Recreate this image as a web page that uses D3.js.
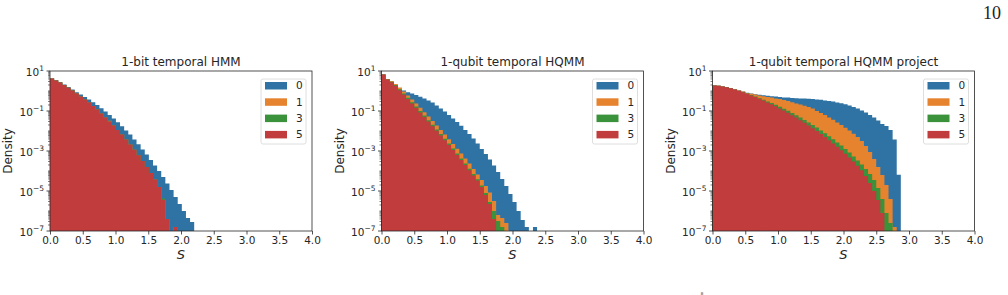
<!DOCTYPE html>
<html>
<head>
<meta charset="utf-8">
<script src="https://cdn.jsdelivr.net/npm/d3@7"></script>
<style>
  body { margin: 0; background: #fff; }
  svg { display: block; font-family: "DejaVu Sans", sans-serif; }
</style>
</head>
<body>
<div id="canvas"></div>
<script>
"use strict";

// Data: log10(density) per histogram bin, null = empty bin
let seriesNames = ["0", "1", "3", "5"];
let panelTitles = ["1-bit temporal HMM", "1-qubit temporal HQMM", "1-qubit temporal HQMM project"];
let binWidths = [0.0629, 0.0625, 0.0625];
let xTicks = [0, 0.5, 1, 1.5, 2, 2.5, 3, 3.5, 4];
let yTickExp = [1, -1, -3, -5, -7];

// panel 1: 1-bit temporal HMM
let hmmBlue = [0.62, 0.55, 0.45, 0.33, 0.20, 0.07, -0.06, -0.18, -0.30, -0.42, -0.56, -0.70, -0.86, -1.02, -1.20, -1.38, -1.56, -1.76, -1.97, -2.18, -2.42, -2.66, -2.92, -3.18, -3.45, -3.72, -4.00, -4.30, -4.62, -4.95, -5.30, -5.65, -6.00, -6.35, -6.55];
let hmmOrange = [0.62, 0.53, 0.42, 0.30, 0.16, 0.02, -0.12, -0.27, -0.42, -0.58, -0.75, -0.93, -1.12, -1.32, -1.49, -1.73, -1.95, -2.18, -2.42, -2.67, -2.94, -3.21, -3.50, -3.80, -4.10, -4.42, -4.80, -5.44, -6.40, null, -6.80];
let hmmGreen = [0.62, 0.53, 0.42, 0.30, 0.16, 0.02, -0.12, -0.27, -0.42, -0.58, -0.75, -0.93, -1.12, -1.32, -1.52, -1.73, -1.95, -2.18, -2.42, -2.67, -2.94, -3.21, -3.50, -3.80, -4.10, -4.42, -4.80, -5.38, -6.40, null, -6.80];
let hmmRed = [0.62, 0.53, 0.42, 0.30, 0.16, 0.02, -0.12, -0.27, -0.42, -0.58, -0.75, -0.93, -1.12, -1.32, -1.52, -1.73, -1.95, -2.18, -2.42, -2.67, -2.94, -3.21, -3.50, -3.80, -4.10, -4.42, -4.80, -5.44, -6.40, null, -6.80];

// panel 2: 1-qubit temporal HQMM
let hqmmBlue = [0.83, 0.60, 0.42, 0.25, 0.10, 0.02, -0.06, -0.13, -0.20, -0.29, -0.38, -0.48, -0.58, -0.72, -0.87, -1.03, -1.20, -1.37, -1.55, -1.74, -1.95, -2.15, -2.38, -2.62, -2.90, -3.15, -3.42, -3.72, -4.05, -4.40, -4.75, -5.15, -5.55, -6.00, -6.45, -6.80, null, -6.80];
let hqmmOrange = [0.83, 0.60, 0.50, 0.35, 0.18, -0.02, -0.22, -0.42, -0.63, -0.84, -1.06, -1.28, -1.50, -1.72, -1.95, -2.18, -2.41, -2.65, -2.89, -3.13, -3.38, -3.63, -3.90, -4.17, -4.45, -4.75, -5.08, -5.50, -6.20, -6.35, -6.60];
let hqmmGreen = [0.83, 0.58, 0.46, 0.30, 0.09, -0.12, -0.34, -0.56, -0.78, -1.00, -1.23, -1.46, -1.69, -1.92, -2.15, -2.39, -2.63, -2.88, -3.13, -3.38, -3.63, -3.89, -4.15, -4.41, -4.72, -5.10, -5.55, -6.00, -6.50, -6.80];
let hqmmRed = [0.83, 0.58, 0.44, 0.26, 0.04, -0.18, -0.40, -0.62, -0.84, -1.07, -1.30, -1.53, -1.76, -1.99, -2.22, -2.46, -2.70, -2.95, -3.20, -3.45, -3.70, -3.96, -4.22, -4.48, -4.80, -5.20, -5.65, -6.40];

// panel 3: 1-qubit temporal HQMM project
let projBlue = [0.28, 0.26, 0.23, 0.19, 0.14, 0.09, 0.03, -0.03, -0.09, -0.13, -0.16, -0.19, -0.21, -0.24, -0.26, -0.28, -0.30, -0.32, -0.33, -0.35, -0.36, -0.37, -0.38, -0.39, -0.40, -0.42, -0.44, -0.47, -0.50, -0.53, -0.57, -0.61, -0.66, -0.72, -0.80, -0.88, -0.98, -1.08, -1.20, -1.33, -1.48, -1.65, -1.75, -1.95, -2.43, -4.19];
let projOrange = [0.28, 0.26, 0.23, 0.19, 0.14, 0.09, 0.03, -0.03, -0.10, -0.14, -0.18, -0.22, -0.26, -0.30, -0.33, -0.37, -0.40, -0.45, -0.50, -0.56, -0.62, -0.68, -0.74, -0.80, -0.88, -1.00, -1.10, -1.20, -1.32, -1.44, -1.57, -1.70, -1.84, -1.98, -2.14, -2.30, -2.50, -2.75, -3.05, -3.40, -3.80, -4.20, -4.70, -5.40, -6.80];
let projGreen = [0.28, 0.26, 0.23, 0.19, 0.14, 0.08, 0.01, -0.06, -0.13, -0.20, -0.28, -0.36, -0.44, -0.52, -0.60, -0.69, -0.79, -0.89, -0.99, -1.10, -1.21, -1.33, -1.45, -1.57, -1.70, -1.83, -1.97, -2.11, -2.26, -2.41, -2.57, -2.73, -2.90, -3.08, -3.27, -3.47, -3.68, -3.90, -4.15, -4.45, -4.85, -5.40, -6.10, -6.60];
let projRed = [0.28, 0.26, 0.23, 0.19, 0.14, 0.08, 0.01, -0.06, -0.14, -0.22, -0.30, -0.39, -0.48, -0.57, -0.66, -0.76, -0.87, -0.98, -1.09, -1.21, -1.33, -1.46, -1.59, -1.72, -1.86, -2.00, -2.15, -2.30, -2.46, -2.62, -2.79, -2.96, -3.14, -3.33, -3.53, -3.74, -3.96, -4.25, -4.60, -5.00, -5.45, -6.10];

let panelSeries = [
  [hmmBlue, hmmOrange, hmmGreen, hmmRed],
  [hqmmBlue, hqmmOrange, hqmmGreen, hqmmRed],
  [projBlue, projOrange, projGreen, projRed]
];

// Canvas setup
let svgWidth = 1008;
let svgHeight = 295;
let panelLefts = [50, 381.5, 712.5];
let panelWidth = 262;
let panelTop = 71;
let panelBottom = 231;
let colors = ["#2f72a4", "#e5832f", "#3a933a", "#c03c3d"];
let textColor = "#262626";

let svg = d3.select("#canvas")
  .append("svg")
  .attr("width", svgWidth)
  .attr("height", svgHeight);

// page number
svg.append("text")
  .attr("x", 1001).attr("y", 19)
  .attr("text-anchor", "end")
  .style("font-family", "'Liberation Serif', 'DejaVu Serif', serif")
  .style("font-size", "18px")
  .attr("fill", "#222")
  .text("10");

// small footnote mark at the bottom edge
svg.append("text")
  .attr("x", 702).attr("y", 294.5)
  .attr("text-anchor", "middle")
  .style("font-family", "'Liberation Serif', serif")
  .style("font-size", "5px")
  .attr("fill", "#222")
  .text("8");

let xScale = d3.scaleLinear().domain([0, 4]).range([0, panelWidth]);
let yScale = d3.scaleLog().domain([1e-7, 1e1]).range([panelBottom - panelTop, 0]);
let plotH = panelBottom - panelTop;

for (let p = 0; p < 3; p++) {
  let g = svg.append("g")
    .attr("transform", "translate(" + panelLefts[p] + "," + panelTop + ")");
  let w = binWidths[p];

  // histogram bars, one path per series (drawn 0,1,3,5 so 5 is on top)
  for (let s = 0; s < 4; s++) {
    let vals = panelSeries[p][s];
    let d = "";
    for (let i = 0; i < vals.length; i++) {
      if (vals[i] === null) continue;
      let x0 = xScale(i * w), x1 = xScale((i + 1) * w);
      let y0 = yScale(Math.pow(10, vals[i]));
      d += "M" + x0 + "," + y0 + "H" + x1 + "V" + plotH + "H" + x0 + "Z";
    }
    g.append("path").attr("d", d).attr("fill", colors[s]);
  }

  // x axis
  let xAxis = g.append("g")
    .attr("transform", "translate(0," + plotH + ")")
    .call(d3.axisBottom(xScale).tickValues(xTicks).tickFormat(d3.format(".1f")).tickSizeOuter(0).tickSize(3.5).tickPadding(2));
  xAxis.select(".domain").remove();
  xAxis.selectAll("line").attr("stroke", textColor).attr("stroke-width", 0.8);
  xAxis.selectAll("text")
    .attr("fill", textColor)
    .style("font-family", "'DejaVu Sans', sans-serif")
    .style("font-size", "10.5px");

  // y axis: minor ticks, then labelled majors
  let minor = [];
  for (let e = -7; e < 1; e++) {
    for (let m = 2; m <= 9; m++) minor.push(m * Math.pow(10, e));
    if (Math.abs(e) % 2 === 0) minor.push(Math.pow(10, e));
  }
  g.append("g").selectAll("line")
    .data(minor).enter().append("line")
    .attr("x1", -2).attr("x2", 0)
    .attr("y1", function(v) { return yScale(v); })
    .attr("y2", function(v) { return yScale(v); })
    .attr("stroke", textColor).attr("stroke-width", 0.6);

  let yMajor = g.append("g").selectAll("g")
    .data(yTickExp).enter().append("g")
    .attr("transform", function(e) { return "translate(0," + yScale(Math.pow(10, e)) + ")"; });
  yMajor.append("line")
    .attr("x1", -3.5).attr("x2", 0)
    .attr("stroke", textColor).attr("stroke-width", 0.8);
  let yLab = yMajor.append("text")
    .attr("x", -6).attr("y", 4.5)
    .attr("text-anchor", "end")
    .attr("fill", textColor)
    .style("font-size", "10.5px");
  yLab.append("tspan").text("10");
  yLab.append("tspan")
    .attr("dy", -5)
    .style("font-size", "7.5px")
    .text(function(e) { return e < 0 ? "\u2212" + Math.abs(e) : e; });

  // frame
  g.append("rect")
    .attr("width", panelWidth).attr("height", plotH)
    .attr("fill", "none").attr("stroke", textColor).attr("stroke-width", 0.8);

  // title
  g.append("text")
    .attr("x", panelWidth / 2).attr("y", -5)
    .attr("text-anchor", "middle")
    .attr("fill", textColor)
    .style("font-size", "12px")
    .text(panelTitles[p]);

  // axis labels
  g.append("text")
    .attr("x", panelWidth / 2).attr("y", plotH + 28)
    .attr("text-anchor", "middle")
    .attr("fill", textColor)
    .style("font-size", "13px")
    .style("font-style", "italic")
    .text("S");
  g.append("text")
    .attr("transform", "translate(-38," + (plotH / 2) + ") rotate(-90)")
    .attr("text-anchor", "middle")
    .attr("fill", textColor)
    .style("font-size", "12px")
    .text("Density");

  // legend
  let lg = g.append("g").attr("transform", "translate(" + (panelWidth - 51) + ",8)");
  lg.append("rect")
    .attr("width", 45).attr("height", 65).attr("rx", 2)
    .attr("fill", "rgba(255,255,255,0.8)").attr("stroke", "#d6d6d6").attr("stroke-width", 0.8);
  for (let s = 0; s < 4; s++) {
    lg.append("rect")
      .attr("x", 4).attr("y", 6.5 + s * 16.3 - 3.5)
      .attr("width", 22).attr("height", 7.5)
      .attr("fill", colors[s]);
    lg.append("text")
      .attr("x", 35).attr("y", 6.5 + s * 16.3 + 3.8)
      .attr("fill", textColor)
      .style("font-size", "10.5px")
      .text(seriesNames[s]);
  }
}
</script>
</body>
</html>
